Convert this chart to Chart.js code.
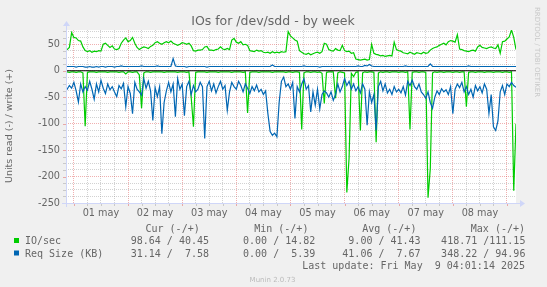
<!DOCTYPE html>
<html>
<head>
<meta charset="utf-8">
<script src="https://cdn.jsdelivr.net/npm/chart.js@4.4.1/dist/chart.umd.min.js"></script>
<style>
  html, body { margin: 0; padding: 0; background: #F0F0F0; }
  canvas { display: block; }
</style>
</head>
<body>
<canvas id="chart" width="547" height="287"></canvas>
<script>
// hourly samples, hour 0 = 01 may 00:00, first sample at START_HOUR
const START_HOUR = -4;

const ioWrite = [
  42, 40, 44, 72,
  63, 62, 57, 56, 45, 38, 36, 38, 35, 37, 36, 38, 37, 50, 52, 48, 44, 47, 41, 40, 42, 52, 58, 62,
  55, 57, 63, 52, 44, 40, 43, 45, 44, 42, 46, 48, 53, 55, 52, 50, 53, 55, 53, 56, 52, 50, 48, 50,
  53, 52, 50, 52, 47, 38, 37, 39, 39, 40, 45, 46, 39, 39, 38, 40, 41, 45, 41, 40, 42, 40, 58, 61,
  54, 52, 55, 49, 50, 48, 38, 37, 36, 39, 37, 38, 35, 34, 35, 33, 36, 34, 35, 34, 36, 35, 36, 74,
  66, 62, 58, 56, 38, 35, 32, 31, 33, 30, 32, 34, 35, 33, 36, 52, 50, 40, 38, 37, 42, 39, 38, 48,
  38, 36, 37, 33, 34, 22, 21, 20, 21, 22, 20, 21, 50, 33, 31, 30, 28, 29, 27, 28, 29, 28, 54, 40,
  38, 37, 34, 33, 32, 35, 33, 31, 34, 33, 32, 35, 33, 34, 39, 42, 44, 45, 48, 50, 52, 49, 55, 57,
  56, 54, 68, 41, 40, 38, 37, 36, 38, 39, 37, 45, 48, 44, 43, 42, 44, 45, 43, 42, 49, 33, 55, 56,
  60, 64, 77, 63, 40
];

const ioRead = [
  -2, -2, -3, -2,
  -2, -3, -2, -2, -4, -105, -3, -2, -2, -2, -3, -2, -2, -2, -2, -3, -2, -2, -2, -2, -3, -2, -2, -6,
  -2, -2, -3, -2, -2, -8, -71, -4, -2, -2, -3, -2, -2, -2, -2, -2, -3, -2, -2, -2, -2, -2, -3, -2,
  -2, -2, -3, -2, -50, -106, -3, -2, -2, -2, -2, -3, -2, -2, -2, -2, -3, -2, -2, -2, -2, -2, -3, -2,
  -2, -2, -2, -3, -2, -80, -3, -2, -2, -2, -3, -2, -2, -2, -2, -2, -3, -2, -2, -2, -2, -2, -3, -2,
  -2, -3, -2, -2, -3, -111, -4, -2, -2, -3, -2, -2, -3, -2, -5, -62, -3, -2, -2, -2, -52, -4, -2, -3,
  -4, -230, -165, -5, -11, -3, -2, -113, -4, -2, -3, -2, -2, -3, -135, -4, -2, -3, -2, -2, -3, -2, -2, -2,
  -3, -2, -2, -3, -2, -111, -3, -2, -2, -3, -2, -2, -3, -240, -185, -4, -2, -3, -2, -2, -3, -2, -2, -2,
  -3, -2, -2, -3, -2, -2, -68, -3, -2, -2, -3, -2, -2, -2, -3, -2, -2, -2, -3, -2, -2, -2, -3, -2,
  -2, -3, -2, -227, -100
];

const reqWrite = [
  8, 8, 8, 8,
  8, 7, 8, 8, 8, 7, 7, 8, 7, 7, 8, 7, 8, 8, 7, 8, 8, 8, 7, 8, 8, 9, 8, 8,
  8, 8, 8, 8, 8, 8, 9, 8, 8, 8, 8, 8, 8, 9, 8, 8, 8, 8, 8, 8, 23, 9, 8, 8,
  8, 8, 7, 8, 8, 8, 8, 8, 8, 8, 8, 7, 8, 8, 8, 8, 8, 8, 8, 8, 8, 8, 8, 8,
  8, 8, 8, 8, 8, 8, 8, 8, 8, 8, 8, 8, 8, 8, 8, 8, 11, 8, 8, 8, 8, 8, 8, 8,
  8, 8, 8, 8, 8, 8, 9, 8, 8, 8, 8, 8, 8, 7, 8, 8, 8, 8, 8, 8, 8, 8, 8, 8,
  8, 8, 8, 8, 8, 8, 9, 8, 8, 10, 9, 12, 9, 8, 8, 8, 8, 8, 8, 8, 8, 8, 8, 8,
  8, 8, 8, 9, 8, 8, 8, 8, 8, 8, 8, 8, 8, 8, 13, 8, 8, 8, 8, 8, 8, 8, 8, 8,
  8, 8, 8, 8, 8, 8, 8, 9, 8, 8, 8, 8, 8, 8, 8, 8, 8, 8, 8, 8, 8, 8, 8, 8,
  8, 8, 8, 8, 8
];

const reqRead = [
  -30, -35, -28, -33,
  -22, -38, -59, -25, -40, -30, -37, -20, -35, -54, -25, -40, -18, -33, -43, -25, -36, -30, -40, -49, -28, -34, -24, -68,
  -30, -43, -81, -22, -35, -40, -46, -15, -33, -20, -38, -94, -32, -49, -30, -119, -60, -38, -22, -40, -25, -87, -15, -35,
  -25, -85, -30, -20, -45, -28, -40, -35, -22, -30, -128, -30, -20, -38, -25, -42, -30, -20, -35, -28, -75, -40, -22, -30,
  -35, -20, -28, -40, -25, -33, -43, -30, -38, -27, -40, -35, -45, -38, -81, -115, -122, -118, -125, -60, -20, -12, -30, -25,
  -35, -22, -90, -30, -40, -25, -15, -35, -28, -78, -40, -65, -35, -72, -45, -38, -42, -50, -40, -56, -45, -25, -40, -30,
  -15, -28, -20, -35, -25, -38, -30, -42, -25, -35, -103, -40, -60, -45, -113, -30, -20, -38, -25, -42, -35, -45, -30, -40,
  -35, -42, -30, -46, -20, -28, -18, -30, -35, -25, -40, -45, -52, -40, -60, -71, -50, -38, -45, -34, -40, -36, -45, -30,
  -81, -35, -25, -32, -22, -40, -30, -45, -35, -50, -28, -38, -30, -42, -25, -35, -81, -45, -106, -113, -95, -40, -28, -45,
  -25, -30, -22, -28, -31
];

const dayLabels = ['01 may', '02 may', '03 may', '04 may', '05 may', '06 may', '07 may', '08 may'];
const yLabels = [50, 0, -50, -100, -150, -200, -250];

const statHeaders = ['Cur (-/+)', 'Min (-/+)', 'Avg (-/+)', 'Max (-/+)'];
const ioStats = ['98.64 / 40.45', '0.00 / 14.82', '9.00 / 41.43', '418.71 /111.15'];
const reqStats = ['31.14 /  7.58', '0.00 /  5.39', '41.06 /  7.67', '348.22 / 94.96'];
const lastUpdate = 'Last update: Fri May  9 04:01:14 2025';

const GREEN = '#00CC00';
const BLUE = '#0066B3';
const FONT_COL = '#666666';
const MAJOR_GRID = 'rgba(222,79,79,0.45)';
const MINOR_GRID = 'rgba(143,143,143,0.4)';

function toPoints(arr) {
    return arr.map((v, i) => ({ x: START_HOUR + i, y: v }));
}

const gridHours = [];
for (let h = 0; h <= 192; h += 6) gridHours.push(h);
const gridValues = [];
for (let v = -250; v <= 75; v += 12.5) gridValues.push(v);

const muninDecor = {
    id: 'muninDecor',
    beforeDraw(chart) {
        const { ctx, chartArea: a } = chart;
        ctx.save();
        ctx.fillStyle = '#F0F0F0';
        ctx.fillRect(0, 0, chart.width, chart.height);
        ctx.fillStyle = '#FFFFFF';
        ctx.fillRect(a.left, a.top, a.right - a.left, a.bottom - a.top);
        ctx.restore();
    },
    afterDatasetsDraw(chart) {
        const { ctx, chartArea: a } = chart;
        const y0 = chart.scales.y.getPixelForValue(0);
        ctx.save();
        ctx.strokeStyle = '#000000';
        ctx.lineWidth = 1.2;
        ctx.beginPath();
        ctx.moveTo(a.left, y0);
        ctx.lineTo(a.right, y0);
        ctx.stroke();
        ctx.restore();
    },
    afterDraw(chart) {
        const { ctx, chartArea: a } = chart;
        const xs = chart.scales.x, ys = chart.scales.y;
        ctx.save();

        // little tick marks outside the plot
        ctx.lineWidth = 1;
        gridValues.forEach(v => {
            const y = Math.round(ys.getPixelForValue(v)) + 0.5;
            ctx.strokeStyle = v % 50 === 0 ? MAJOR_GRID : MINOR_GRID;
            ctx.beginPath();
            ctx.moveTo(a.left - 3, y);
            ctx.lineTo(a.left, y);
            ctx.stroke();
        });
        gridHours.forEach(h => {
            const x = Math.round(xs.getPixelForValue(h)) + 0.5;
            ctx.strokeStyle = h % 24 === 0 ? MAJOR_GRID : MINOR_GRID;
            ctx.beginPath();
            ctx.moveTo(x, a.bottom);
            ctx.lineTo(x, a.bottom + 3);
            ctx.stroke();
        });

        // axes with arrows
        ctx.strokeStyle = '#CFD6F8';
        ctx.fillStyle = '#CFD6F8';
        ctx.beginPath();
        ctx.moveTo(a.left - 4, Math.round(a.bottom) + 0.5);
        ctx.lineTo(a.right + 4, Math.round(a.bottom) + 0.5);
        ctx.moveTo(a.left + 0.5, a.bottom + 4);
        ctx.lineTo(a.left + 0.5, a.top - 4);
        ctx.stroke();
        ctx.beginPath();
        ctx.moveTo(a.right + 4, a.bottom - 3);
        ctx.lineTo(a.right + 9, a.bottom + 0.5);
        ctx.lineTo(a.right + 4, a.bottom + 4);
        ctx.fill();
        ctx.beginPath();
        ctx.moveTo(a.left - 3, a.top - 4);
        ctx.lineTo(a.left + 0.5, a.top - 9);
        ctx.lineTo(a.left + 4, a.top - 4);
        ctx.fill();

        // title
        ctx.fillStyle = FONT_COL;
        ctx.font = '12.5px "DejaVu Sans"';
        ctx.textAlign = 'center';
        ctx.textBaseline = 'alphabetic';
        ctx.fillText('IOs for /dev/sdd - by week', 273, 25);

        // tick labels
        ctx.font = '9.7px "DejaVu Sans"';
        ctx.textAlign = 'right';
        ctx.textBaseline = 'middle';
        yLabels.forEach(v => ctx.fillText(String(v), a.left - 6, ys.getPixelForValue(v)));
        ctx.textAlign = 'center';
        dayLabels.forEach((d, i) => ctx.fillText(d, xs.getPixelForValue(12 + 24 * i), 213));

        // vertical axis title
        ctx.save();
        ctx.translate(10, 126);
        ctx.rotate(-Math.PI / 2);
        ctx.font = '9.5px "DejaVu Sans"';
        ctx.fillText('Units read (-) / write (+)', 0, 0);
        ctx.restore();

        // side watermark
        ctx.save();
        ctx.translate(537, 52);
        ctx.rotate(Math.PI / 2);
        ctx.fillStyle = '#C8C8C8';
        ctx.font = '7px "DejaVu Sans"';
        ctx.fillText('RRDTOOL / TOBI OETIKER', 0, 0);
        ctx.restore();

        // legend
        ctx.font = '10px "DejaVu Sans Mono"';
        ctx.textBaseline = 'alphabetic';
        ctx.textAlign = 'right';
        const headEnds = [199.7, 308.4, 416.4, 525];
        const valEnds = [209, 315.3, 420.6, 525.4];
        statHeaders.forEach((t, i) => ctx.fillText(t, headEnds[i], 231.5));
        ioStats.forEach((t, i) => ctx.fillText(t, valEnds[i], 244));
        reqStats.forEach((t, i) => ctx.fillText(t, valEnds[i], 256.5));
        ctx.fillText(lastUpdate, 525, 269);
        ctx.textAlign = 'left';
        ctx.fillText('IO/sec', 25, 244);
        ctx.fillText('Req Size (KB)', 25, 256.5);
        ctx.fillStyle = GREEN;
        ctx.fillRect(14, 238, 5, 5);
        ctx.fillStyle = BLUE;
        ctx.fillRect(14, 250.5, 5, 5);

        ctx.fillStyle = '#BBBBBB';
        ctx.font = '7px "DejaVu Sans"';
        ctx.textAlign = 'center';
        ctx.fillText('Munin 2.0.73', 272.5, 281.5);
        ctx.restore();
    }
};

const lineSet = (label, data, color, order) => ({
    label: label,
    data: toPoints(data),
    borderColor: color,
    backgroundColor: color,
    borderWidth: 1.2,
    pointRadius: 0,
    tension: 0,
    fill: false,
    order: order
});

new Chart(document.getElementById('chart').getContext('2d'), {
    type: 'line',
    data: {
        datasets: [
            lineSet('Req Size read', reqRead, BLUE, 0),
            lineSet('Req Size (KB)', reqWrite, BLUE, 0),
            lineSet('IO read', ioRead, GREEN, 1),
            lineSet('IO/sec', ioWrite, GREEN, 1)
        ]
    },
    options: {
        responsive: false,
        animation: false,
        events: [],
        layout: { padding: { left: 66, right: 31, top: 30, bottom: 84 } },
        plugins: {
            legend: { display: false },
            tooltip: { enabled: false },
            title: { display: false }
        },
        scales: {
            x: {
                type: 'linear',
                min: -3.5,
                max: 196,
                afterBuildTicks: s => { s.ticks = gridHours.map(v => ({ value: v })); },
                ticks: { display: false },
                grid: {
                    drawTicks: false,
                    lineWidth: 1,
                    color: c => (c.tick && c.tick.value % 24 === 0) ? MAJOR_GRID : MINOR_GRID
                },
                border: { display: false, dash: [1, 1] }
            },
            y: {
                type: 'linear',
                min: -250,
                max: 77,
                afterBuildTicks: s => { s.ticks = gridValues.map(v => ({ value: v })); },
                ticks: { display: false },
                grid: {
                    drawTicks: false,
                    lineWidth: 1,
                    color: c => (c.tick && c.tick.value % 50 === 0) ? MAJOR_GRID : MINOR_GRID
                },
                border: { display: false, dash: [1, 1] }
            }
        }
    },
    plugins: [muninDecor]
});
</script>
</body>
</html>
